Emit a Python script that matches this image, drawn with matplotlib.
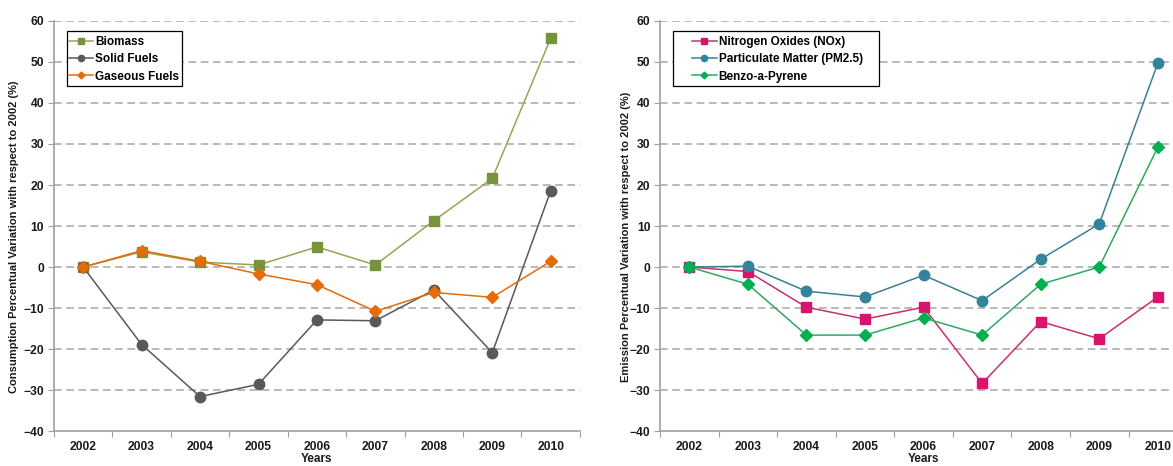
import matplotlib
matplotlib.use("Agg")
import matplotlib.pyplot as plt
from matplotlib.patches import Rectangle

plt.rcParams['font.family'] = ['Liberation Sans', 'DejaVu Sans']
plt.rcParams['font.weight'] = 'bold'

years = [2002, 2003, 2004, 2005, 2006, 2007, 2008, 2009, 2010]

# Fuel consumption, % variation with respect to 2002
biomass = [0, 3.7, 1.2, 0.5, 4.9, 0.5, 11.3, 21.6, 55.8]
solid_fuels = [0, -18.9, -31.6, -28.6, -12.9, -13.1, -5.6, -20.9, 18.6]
gaseous_fuels = [0, 4.0, 1.4, -1.7, -4.3, -10.8, -6.2, -7.4, 1.4]

# Pollutant emissions, % variation with respect to 2002
nox = [0, -1.1, -9.8, -12.7, -9.8, -28.4, -13.3, -17.5, -7.3]
pm25 = [0, 0.2, -5.9, -7.3, -2.0, -8.2, 1.9, 10.5, 49.7]
bap = [0, -4.2, -16.6, -16.6, -12.4, -16.6, -4.2, 0, 29.2]

fig = plt.figure(figsize=(11.73, 4.66), dpi=100)
ax1 = fig.add_axes([0.046, 0.075, 0.4484, 0.880])
ax2 = fig.add_axes([0.5627, 0.075, 0.4493, 0.880])

axis_gray = '#A0A0A0'
text_color = '#1a1a1a'


def style_axes(ax, ylabel, label_x):
    x = list(range(len(years)))
    ax.set_xlim(-0.5, len(years) - 0.5)
    ax.set_ylim(-40, 60)
    ax.set_yticks(range(-40, 61, 10))
    ax.set_xticks([i + 0.5 for i in range(-1, len(years))], minor=False)
    ax.set_xticklabels([])
    ax.set_xticks(x, minor=True)
    ax.set_xticklabels([str(y) for y in years], minor=True)
    ax.tick_params(axis='x', which='minor', length=0, pad=7, labelsize=8.7,
                   labelcolor=text_color)
    ax.tick_params(axis='x', which='major', length=4, color=axis_gray, direction='out')
    ax.tick_params(axis='y', length=4, color=axis_gray, direction='out',
                   labelsize=8.7, pad=3, labelcolor=text_color)
    for lab in ax.get_xticklabels(minor=True) + ax.get_yticklabels():
        lab.set_fontweight('bold')
    for s in ('top', 'right'):
        ax.spines[s].set_visible(False)
    for s in ('left', 'bottom'):
        ax.spines[s].set_color(axis_gray)
        ax.spines[s].set_linewidth(1.2)
    for v in range(-30, 61, 10):
        ax.axhline(v, color='#A6A6A6', lw=1.1, ls=(0, (5, 3)), zorder=0)
    ax.set_xlabel('Years', fontsize=8.5, fontweight='bold', labelpad=0.5, color=text_color)
    ax.set_ylabel(ylabel, fontsize=8, fontweight='bold', color=text_color)
    ax.yaxis.set_label_coords(label_x, 0.473)
    return x


def add_legend(ax, box, handle_x):
    # frame drawn separately so its size can be set independently of the entries
    x0, y0, x1, y1 = box
    ax.add_patch(Rectangle((x0, y0), x1 - x0, y1 - y0, transform=ax.transAxes,
                           fill=True, facecolor='white', edgecolor='black',
                           lw=0.9, zorder=5, clip_on=False))
    leg = ax.legend(loc='center left', bbox_to_anchor=(handle_x, (y0 + y1) / 2 - 0.002),
                    frameon=False, handlelength=2.1, handletextpad=0.15,
                    borderpad=0, borderaxespad=0, labelspacing=0.45, markerscale=0.6,
                    prop={'weight': 'bold', 'size': 8.5})
    leg.set_zorder(6)
    return leg


x = style_axes(ax1, 'Consumption Percentual Variation with respect to 2002 (%)', -0.066)
ax1.plot(x, biomass, color='#9AA257', lw=1.1, marker='s', ms=7,
         mfc='#77933C', mec='#77933C', label='Biomass', zorder=3)
ax1.plot(x, solid_fuels, color='#595959', lw=1.1, marker='o', ms=7.5,
         mfc='#595959', mec='#595959', label='Solid Fuels', zorder=3)
ax1.plot(x, gaseous_fuels, color='#E46C0A', lw=1.1, marker='D', ms=5.8,
         mfc='#E46C0A', mec='#E46C0A', label='Gaseous Fuels', zorder=4)
add_legend(ax1, (0.0247, 0.841, 0.2440, 0.976), 0.028)

x = style_axes(ax2, 'Emission Percentual Variation with respect to 2002 (%)', -0.056)
ax2.plot(x, nox, color='#C8306F', lw=1.1, marker='s', ms=7,
         mfc='#D9146F', mec='#D9146F', label='Nitrogen Oxides (NOx)', zorder=3)
ax2.plot(x, pm25, color='#3C7F95', lw=1.1, marker='o', ms=7.5,
         mfc='#31849B', mec='#31849B', label='Particulate Matter (PM2.5)', zorder=3)
ax2.plot(x, bap, color='#2EAA60', lw=1.1, marker='D', ms=5.8,
         mfc='#00B050', mec='#00B050', label='Benzo-a-Pyrene', zorder=4)
add_legend(ax2, (0.0247, 0.841, 0.4155, 0.976), 0.0607)

fig.savefig('out.png', dpi=100)
